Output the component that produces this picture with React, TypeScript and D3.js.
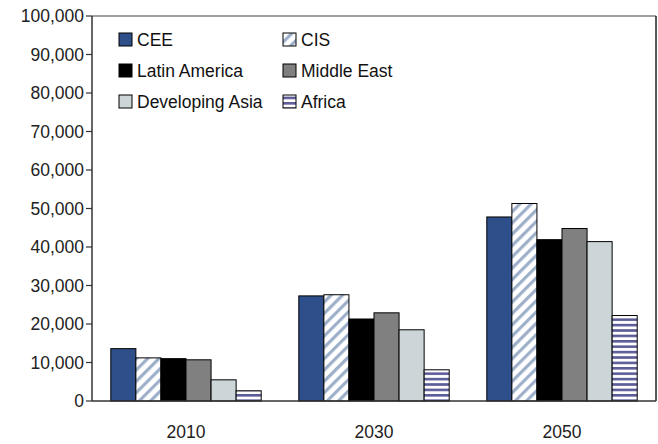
import React from 'react';
import * as d3 from 'd3';

const years = ['2010', '2030', '2050'];
const regions = ['CEE', 'CIS', 'Latin America', 'Middle East', 'Developing Asia', 'Africa'];

const cee = [13600, 27300, 47800];
const cis = [11200, 27600, 51300];
const latinAmerica = [11000, 21300, 41900];
const middleEast = [10700, 22900, 44800];
const developingAsia = [5500, 18500, 41400];
const africa = [2650, 8100, 22200];

const seriesValues = [cee, cis, latinAmerica, middleEast, developingAsia, africa];
const yTicks = [0, 10000, 20000, 30000, 40000, 50000, 60000, 70000, 80000, 90000, 100000];

const fills: Record<string, string> = {
  CEE: '#2e4f8a',
  CIS: 'url(#diag)',
  'Latin America': '#000000',
  'Middle East': '#808080',
  'Developing Asia': '#ccd5d8',
  Africa: 'url(#hstripe)',
};

const W = 658;
const H = 444;
const margin = { top: 16, right: 2, bottom: 43, left: 92 };

export default function App() {
  const innerW = W - margin.left - margin.right;
  const innerH = H - margin.top - margin.bottom;

  const x0 = d3.scaleBand().domain(years).range([0, innerW]);
  const bw = x0.bandwidth();
  const x1 = d3.scaleBand().domain(regions).range([bw * 0.1, bw * 0.9]);
  const y = d3.scaleLinear().domain([0, 100000]).range([innerH, 0]);
  const fmt = d3.format(',');

  const font = '"Liberation Sans", Arial, sans-serif';

  return (
    <svg width={W} height={H} style={{ position: 'absolute', left: 0, top: 0, background: '#fff' }}>
      <defs>
        <pattern id="diag" width="8" height="8" patternUnits="userSpaceOnUse" patternTransform="rotate(45)">
          <rect width="8" height="8" fill="#ffffff" />
          <rect width="3.2" height="8" fill="#9eb0c9" />
        </pattern>
        <pattern id="hstripe" width="6" height="5.4" patternUnits="userSpaceOnUse">
          <rect width="6" height="5.4" fill="#ffffff" />
          <rect width="6" height="2.6" fill="#5c5c98" />
        </pattern>
      </defs>
      <g transform={`translate(${margin.left},${margin.top})`} fontFamily={font}>
        {/* bars */}
        {years.map((yr, i) => (
          <g key={yr} transform={`translate(${x0(yr)},0)`}>
            {regions.map((r, j) => {
              const v = seriesValues[j][i];
              return (
                <rect
                  key={r}
                  x={x1(r)}
                  y={y(v)}
                  width={x1.bandwidth()}
                  height={innerH - y(v)}
                  fill={fills[r]}
                  stroke="#000"
                  strokeWidth={1}
                />
              );
            })}
          </g>
        ))}

        {/* frame */}
        <line x1={0} y1={0} x2={innerW} y2={0} stroke="#808080" strokeWidth={1.5} />
        <line x1={innerW} y1={0} x2={innerW} y2={innerH} stroke="#222" strokeWidth={1.5} />
        <line x1={0} y1={innerH} x2={innerW} y2={innerH} stroke="#333" strokeWidth={1.5} />
        <line x1={0} y1={0} x2={0} y2={innerH} stroke="#333" strokeWidth={1.5} />

        {/* y axis */}
        {yTicks.map((t) => (
          <g key={t} transform={`translate(0,${y(t)})`}>
            <line x1={-6} x2={0} stroke="#333" strokeWidth={1.2} />
            <text x={-8} dy="0.36em" textAnchor="end" fontSize={17.5} fill="#222">
              {fmt(t)}
            </text>
          </g>
        ))}

        {/* x labels */}
        {years.map((yr) => (
          <text key={yr} x={(x0(yr) ?? 0) + bw / 2} y={innerH + 37} textAnchor="middle" fontSize={17.5} fill="#222">
            {yr}
          </text>
        ))}

        {/* legend */}
        {regions.map((r, j) => {
          const col = j % 2;
          const row = Math.floor(j / 2);
          const lx = 27 + col * 164;
          const ly = 24 + row * 31;
          return (
            <g key={r} transform={`translate(${lx},${ly})`}>
              <rect x={0} y={-7} width={13} height={13} fill={fills[r]} stroke="#000" strokeWidth={1} />
              <text x={18} dy="0.36em" fontSize={17.5} fill="#111">
                {r}
              </text>
            </g>
          );
        })}
      </g>
    </svg>
  );
}
